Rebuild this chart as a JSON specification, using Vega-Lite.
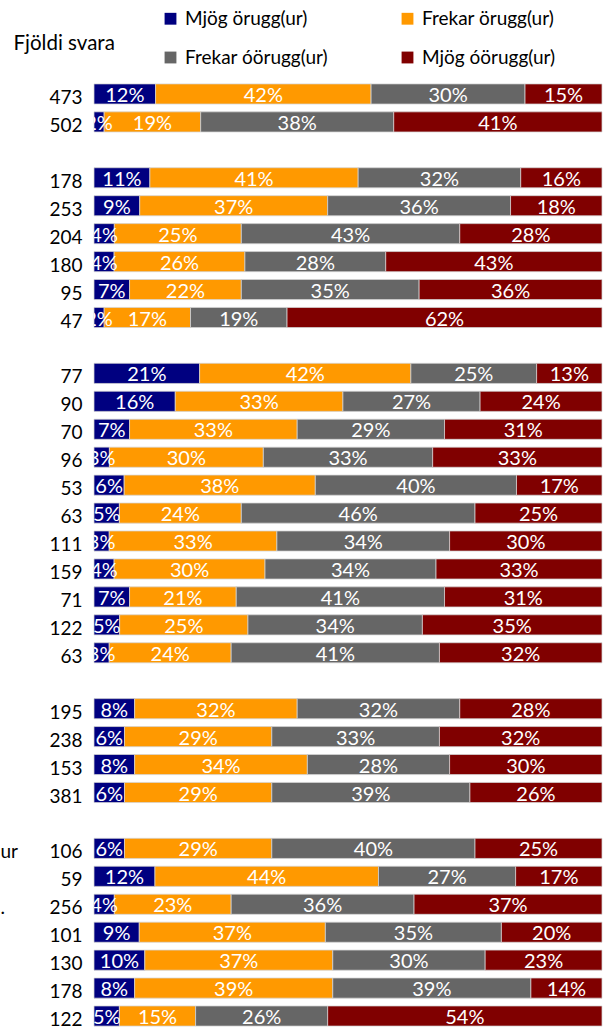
{
  "$schema": "https://vega.github.io/schema/vega-lite/v6.json",
  "width": 508,
  "height": 950,
  "autosize": {"type": "none"},
  "padding": {"left": 94, "top": 80, "right": 8, "bottom": 2},
  "background": "white",
  "config": {"view": {"stroke": null}, "font": "Lato"},
  "data": {"values": [
    {"r":"01|473|","c":"Mjög örugg(ur)","o":1,"p":0.12},{"r":"01|473|","c":"Frekar örugg(ur)","o":2,"p":0.42},{"r":"01|473|","c":"Frekar óörugg(ur)","o":3,"p":0.30},{"r":"01|473|","c":"Mjög óörugg(ur)","o":4,"p":0.15},
    {"r":"02|502|","c":"Mjög örugg(ur)","o":1,"p":0.02},{"r":"02|502|","c":"Frekar örugg(ur)","o":2,"p":0.19},{"r":"02|502|","c":"Frekar óörugg(ur)","o":3,"p":0.38},{"r":"02|502|","c":"Mjög óörugg(ur)","o":4,"p":0.41},
    {"r":"04|178|","c":"Mjög örugg(ur)","o":1,"p":0.11},{"r":"04|178|","c":"Frekar örugg(ur)","o":2,"p":0.41},{"r":"04|178|","c":"Frekar óörugg(ur)","o":3,"p":0.32},{"r":"04|178|","c":"Mjög óörugg(ur)","o":4,"p":0.16},
    {"r":"05|253|","c":"Mjög örugg(ur)","o":1,"p":0.09},{"r":"05|253|","c":"Frekar örugg(ur)","o":2,"p":0.37},{"r":"05|253|","c":"Frekar óörugg(ur)","o":3,"p":0.36},{"r":"05|253|","c":"Mjög óörugg(ur)","o":4,"p":0.18},
    {"r":"06|204|","c":"Mjög örugg(ur)","o":1,"p":0.04},{"r":"06|204|","c":"Frekar örugg(ur)","o":2,"p":0.25},{"r":"06|204|","c":"Frekar óörugg(ur)","o":3,"p":0.43},{"r":"06|204|","c":"Mjög óörugg(ur)","o":4,"p":0.28},
    {"r":"07|180|","c":"Mjög örugg(ur)","o":1,"p":0.04},{"r":"07|180|","c":"Frekar örugg(ur)","o":2,"p":0.26},{"r":"07|180|","c":"Frekar óörugg(ur)","o":3,"p":0.28},{"r":"07|180|","c":"Mjög óörugg(ur)","o":4,"p":0.43},
    {"r":"08|95|","c":"Mjög örugg(ur)","o":1,"p":0.07},{"r":"08|95|","c":"Frekar örugg(ur)","o":2,"p":0.22},{"r":"08|95|","c":"Frekar óörugg(ur)","o":3,"p":0.35},{"r":"08|95|","c":"Mjög óörugg(ur)","o":4,"p":0.36},
    {"r":"09|47|","c":"Mjög örugg(ur)","o":1,"p":0.02},{"r":"09|47|","c":"Frekar örugg(ur)","o":2,"p":0.17},{"r":"09|47|","c":"Frekar óörugg(ur)","o":3,"p":0.19},{"r":"09|47|","c":"Mjög óörugg(ur)","o":4,"p":0.62},
    {"r":"11|77|","c":"Mjög örugg(ur)","o":1,"p":0.21},{"r":"11|77|","c":"Frekar örugg(ur)","o":2,"p":0.42},{"r":"11|77|","c":"Frekar óörugg(ur)","o":3,"p":0.25},{"r":"11|77|","c":"Mjög óörugg(ur)","o":4,"p":0.13},
    {"r":"12|90|","c":"Mjög örugg(ur)","o":1,"p":0.16},{"r":"12|90|","c":"Frekar örugg(ur)","o":2,"p":0.33},{"r":"12|90|","c":"Frekar óörugg(ur)","o":3,"p":0.27},{"r":"12|90|","c":"Mjög óörugg(ur)","o":4,"p":0.24},
    {"r":"13|70|","c":"Mjög örugg(ur)","o":1,"p":0.07},{"r":"13|70|","c":"Frekar örugg(ur)","o":2,"p":0.33},{"r":"13|70|","c":"Frekar óörugg(ur)","o":3,"p":0.29},{"r":"13|70|","c":"Mjög óörugg(ur)","o":4,"p":0.31},
    {"r":"14|96|","c":"Mjög örugg(ur)","o":1,"p":0.03},{"r":"14|96|","c":"Frekar örugg(ur)","o":2,"p":0.30},{"r":"14|96|","c":"Frekar óörugg(ur)","o":3,"p":0.33},{"r":"14|96|","c":"Mjög óörugg(ur)","o":4,"p":0.33},
    {"r":"15|53|","c":"Mjög örugg(ur)","o":1,"p":0.06},{"r":"15|53|","c":"Frekar örugg(ur)","o":2,"p":0.38},{"r":"15|53|","c":"Frekar óörugg(ur)","o":3,"p":0.40},{"r":"15|53|","c":"Mjög óörugg(ur)","o":4,"p":0.17},
    {"r":"16|63|","c":"Mjög örugg(ur)","o":1,"p":0.05},{"r":"16|63|","c":"Frekar örugg(ur)","o":2,"p":0.24},{"r":"16|63|","c":"Frekar óörugg(ur)","o":3,"p":0.46},{"r":"16|63|","c":"Mjög óörugg(ur)","o":4,"p":0.25},
    {"r":"17|111|","c":"Mjög örugg(ur)","o":1,"p":0.03},{"r":"17|111|","c":"Frekar örugg(ur)","o":2,"p":0.33},{"r":"17|111|","c":"Frekar óörugg(ur)","o":3,"p":0.34},{"r":"17|111|","c":"Mjög óörugg(ur)","o":4,"p":0.30},
    {"r":"18|159|","c":"Mjög örugg(ur)","o":1,"p":0.04},{"r":"18|159|","c":"Frekar örugg(ur)","o":2,"p":0.30},{"r":"18|159|","c":"Frekar óörugg(ur)","o":3,"p":0.34},{"r":"18|159|","c":"Mjög óörugg(ur)","o":4,"p":0.33},
    {"r":"19|71|","c":"Mjög örugg(ur)","o":1,"p":0.07},{"r":"19|71|","c":"Frekar örugg(ur)","o":2,"p":0.21},{"r":"19|71|","c":"Frekar óörugg(ur)","o":3,"p":0.41},{"r":"19|71|","c":"Mjög óörugg(ur)","o":4,"p":0.31},
    {"r":"20|122|","c":"Mjög örugg(ur)","o":1,"p":0.05},{"r":"20|122|","c":"Frekar örugg(ur)","o":2,"p":0.25},{"r":"20|122|","c":"Frekar óörugg(ur)","o":3,"p":0.34},{"r":"20|122|","c":"Mjög óörugg(ur)","o":4,"p":0.35},
    {"r":"21|63|","c":"Mjög örugg(ur)","o":1,"p":0.03},{"r":"21|63|","c":"Frekar örugg(ur)","o":2,"p":0.24},{"r":"21|63|","c":"Frekar óörugg(ur)","o":3,"p":0.41},{"r":"21|63|","c":"Mjög óörugg(ur)","o":4,"p":0.32},
    {"r":"23|195|","c":"Mjög örugg(ur)","o":1,"p":0.08},{"r":"23|195|","c":"Frekar örugg(ur)","o":2,"p":0.32},{"r":"23|195|","c":"Frekar óörugg(ur)","o":3,"p":0.32},{"r":"23|195|","c":"Mjög óörugg(ur)","o":4,"p":0.28},
    {"r":"24|238|","c":"Mjög örugg(ur)","o":1,"p":0.06},{"r":"24|238|","c":"Frekar örugg(ur)","o":2,"p":0.29},{"r":"24|238|","c":"Frekar óörugg(ur)","o":3,"p":0.33},{"r":"24|238|","c":"Mjög óörugg(ur)","o":4,"p":0.32},
    {"r":"25|153|","c":"Mjög örugg(ur)","o":1,"p":0.08},{"r":"25|153|","c":"Frekar örugg(ur)","o":2,"p":0.34},{"r":"25|153|","c":"Frekar óörugg(ur)","o":3,"p":0.28},{"r":"25|153|","c":"Mjög óörugg(ur)","o":4,"p":0.30},
    {"r":"26|381|","c":"Mjög örugg(ur)","o":1,"p":0.06},{"r":"26|381|","c":"Frekar örugg(ur)","o":2,"p":0.29},{"r":"26|381|","c":"Frekar óörugg(ur)","o":3,"p":0.39},{"r":"26|381|","c":"Mjög óörugg(ur)","o":4,"p":0.26},
    {"r":"28|106|ur","c":"Mjög örugg(ur)","o":1,"p":0.06},{"r":"28|106|ur","c":"Frekar örugg(ur)","o":2,"p":0.29},{"r":"28|106|ur","c":"Frekar óörugg(ur)","o":3,"p":0.40},{"r":"28|106|ur","c":"Mjög óörugg(ur)","o":4,"p":0.25},
    {"r":"29|59|","c":"Mjög örugg(ur)","o":1,"p":0.12},{"r":"29|59|","c":"Frekar örugg(ur)","o":2,"p":0.44},{"r":"29|59|","c":"Frekar óörugg(ur)","o":3,"p":0.27},{"r":"29|59|","c":"Mjög óörugg(ur)","o":4,"p":0.17},
    {"r":"30|256|.","c":"Mjög örugg(ur)","o":1,"p":0.04},{"r":"30|256|.","c":"Frekar örugg(ur)","o":2,"p":0.23},{"r":"30|256|.","c":"Frekar óörugg(ur)","o":3,"p":0.36},{"r":"30|256|.","c":"Mjög óörugg(ur)","o":4,"p":0.37},
    {"r":"31|101|","c":"Mjög örugg(ur)","o":1,"p":0.09},{"r":"31|101|","c":"Frekar örugg(ur)","o":2,"p":0.37},{"r":"31|101|","c":"Frekar óörugg(ur)","o":3,"p":0.35},{"r":"31|101|","c":"Mjög óörugg(ur)","o":4,"p":0.20},
    {"r":"32|130|","c":"Mjög örugg(ur)","o":1,"p":0.10},{"r":"32|130|","c":"Frekar örugg(ur)","o":2,"p":0.37},{"r":"32|130|","c":"Frekar óörugg(ur)","o":3,"p":0.30},{"r":"32|130|","c":"Mjög óörugg(ur)","o":4,"p":0.23},
    {"r":"33|178|","c":"Mjög örugg(ur)","o":1,"p":0.08},{"r":"33|178|","c":"Frekar örugg(ur)","o":2,"p":0.39},{"r":"33|178|","c":"Frekar óörugg(ur)","o":3,"p":0.39},{"r":"33|178|","c":"Mjög óörugg(ur)","o":4,"p":0.14},
    {"r":"34|122|","c":"Mjög örugg(ur)","o":1,"p":0.05},{"r":"34|122|","c":"Frekar örugg(ur)","o":2,"p":0.15},{"r":"34|122|","c":"Frekar óörugg(ur)","o":3,"p":0.26},{"r":"34|122|","c":"Mjög óörugg(ur)","o":4,"p":0.54}
  ]},
  "layer": [
    {
      "mark": {"type": "bar", "stroke": "#d4d4d4", "strokeWidth": 0.75},
      "encoding": {
        "y": {
          "field": "r", "type": "nominal",
          "scale": {"domain": ["01|473|","02|502|","03||","04|178|","05|253|","06|204|","07|180|","08|95|","09|47|","10||","11|77|","12|90|","13|70|","14|96|","15|53|","16|63|","17|111|","18|159|","19|71|","20|122|","21|63|","22||","23|195|","24|238|","25|153|","26|381|","27||","28|106|ur","29|59|","30|256|.","31|101|","32|130|","33|178|","34|122|"], "paddingInner": 0.28, "paddingOuter": 0.14},
          "axis": {
            "title": "Fjöldi svara", "titleAngle": 0, "titleAlign": "left", "titleBaseline": "alphabetic",
            "titleX": -81, "titleY": -31, "titleFont": "Lato", "titleFontSize": 20.5, "titleFontWeight": "normal", "titleColor": "#000000",
            "labelExpr": "split(datum.value, '|')[1]",
            "labelFont": "Lato", "labelFontSize": 19, "labelColor": "#000000", "labelPadding": 12, "labelOffset": 4,
            "labelAlign": "right", "labelBaseline": "middle",
            "ticks": false, "tickSize": 0, "domain": false, "grid": false
          }
        },
        "x": {"field": "p", "type": "quantitative", "stack": "normalize", "axis": null},
        "color": {
          "field": "c", "type": "nominal",
          "scale": {"domain": ["Mjög örugg(ur)", "Frekar örugg(ur)", "Frekar óörugg(ur)", "Mjög óörugg(ur)"], "range": ["#000080", "#FF9900", "#666666", "#800000"]},
          "legend": {
            "orient": "none", "legendX": 67, "legendY": -71, "direction": "horizontal", "columns": 2,
            "title": null, "symbolType": "square", "symbolSize": 140, "symbolStrokeWidth": 0,
            "labelFont": "Lato", "labelFontSize": 19, "labelColor": "#000000", "labelOffset": 5, "labelLimit": 300,
            "columnPadding": 70, "rowPadding": 19, "padding": 0
          }
        },
        "order": {"field": "o", "type": "quantitative"}
      }
    },
    {
      "mark": {"type": "text", "color": "white", "fontSize": 20, "font": "Lato", "clip": true, "baseline": "middle", "dy": 2},
      "encoding": {
        "y": {
          "field": "r", "type": "nominal",
          "scale": {"domain": ["01|473|","02|502|","03||","04|178|","05|253|","06|204|","07|180|","08|95|","09|47|","10||","11|77|","12|90|","13|70|","14|96|","15|53|","16|63|","17|111|","18|159|","19|71|","20|122|","21|63|","22||","23|195|","24|238|","25|153|","26|381|","27||","28|106|ur","29|59|","30|256|.","31|101|","32|130|","33|178|","34|122|"], "paddingInner": 0.28, "paddingOuter": 0.14},
          "axis": {
            "orient": "left", "title": null,
            "labelExpr": "split(datum.value, '|')[2]",
            "labelFont": "Lato", "labelFontSize": 19, "labelColor": "#000000", "labelPadding": 94, "labelOffset": 4,
            "labelAlign": "left", "labelBaseline": "middle",
            "ticks": false, "tickSize": 0, "domain": false, "grid": false
          }
        },
        "x": {"field": "p", "type": "quantitative", "stack": "normalize", "bandPosition": 0.5},
        "detail": {"field": "c"},
        "order": {"field": "o", "type": "quantitative"},
        "text": {"field": "p", "type": "quantitative", "format": ".0%"}
      }
    }
  ],
  "resolve": {"axis": {"y": "independent"}}
}
